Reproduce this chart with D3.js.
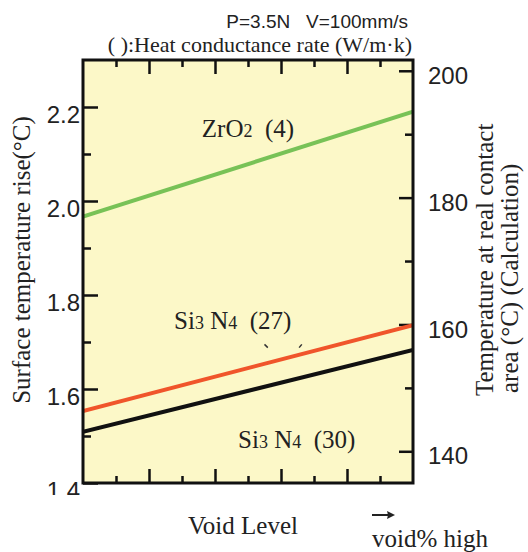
<!DOCTYPE html>
<meta charset="utf-8">
<style>

body {
  margin: 0;
  background: #fff;
}

.sans {
  font-family: "Liberation Sans", Arial, sans-serif;
}

.tick-label {
  font-family: "Liberation Sans Narrow", "Liberation Sans", Arial, sans-serif;
  font-size: 24px;
  fill: #222;
}

.serif {
  font-family: "Liberation Serif", "Times New Roman", serif;
  fill: #222;
  white-space: pre;
}

</style>
<svg width="528" height="552"></svg>
<script src="https://d3js.org/d3.v7.min.js"></script>
<script>
// Data (left axis units = surface temperature rise, deg C)
var voidLevel = [0, 10];
var zro2 = [1.967, 2.190];
var si3n4_27 = [1.553, 1.736];
var si3n4_30 = [1.509, 1.683];

var leftTicks = [1.4, 1.6, 1.8, 2.0, 2.2],
    leftMinor = [1.5, 1.7, 1.9, 2.1],
    rightTicks = [140, 160, 180, 200],
    rightMinor = [150, 170, 190],
    xLong = [2, 4, 6, 8],
    xShort = [1, 3, 5, 7, 9];

var series = [
  {name: "ZrO2", values: zro2, color: "#78c257"},
  {name: "Si3N4 (27)", values: si3n4_27, color: "#f0552b"},
  {name: "Si3N4 (30)", values: si3n4_30, color: "#111"}
];

var svg = d3.select("svg"),
    plot = {left: 83, right: 413, top: 60, bottom: 483};

var x = d3.scaleLinear().domain([0, 10]).range([plot.left, plot.right]);
var yL = d3.scaleLinear().domain([1.4, 2.3]).range([plot.bottom, plot.top]);
var yR = d3.scaleLinear().domain([135, 201.7]).range([plot.bottom, plot.top]);

// yellow plot background
svg.append("rect")
    .attr("x", plot.left).attr("y", plot.top)
    .attr("width", plot.right - plot.left).attr("height", plot.bottom - plot.top)
    .attr("fill", "#fcf8c8");

svg.append("clipPath").attr("id", "plot-clip")
  .append("rect")
    .attr("x", plot.left).attr("y", plot.top)
    .attr("width", plot.right - plot.left).attr("height", plot.bottom - plot.top);

// the 1.4 label is half hidden in the original
svg.append("clipPath").attr("id", "left-clip")
  .append("rect").attr("x", -100).attr("y", 0).attr("width", 200).attr("height", 495);

function styleAxis(sel) {
  sel.select(".domain").remove();
  sel.selectAll(".tick line").attr("stroke", "#111").attr("stroke-width", 2.5);
}

// left axis: major + minor ticks pointing inward
var left = svg.append("g")
    .attr("transform", "translate(" + plot.left + ",0)")
    .attr("clip-path", "url(#left-clip)")
    .call(d3.axisLeft(yL).tickValues(leftTicks).tickSizeInner(-15).tickSizeOuter(0)
      .tickPadding(3).tickFormat(d3.format(".1f")))
    .call(styleAxis);
left.selectAll("text").attr("class", "tick-label").attr("y", 8).attr("font-size", null).attr("font-family", null);

svg.append("g")
    .attr("transform", "translate(" + plot.left + ",0)")
    .call(d3.axisLeft(yL).tickValues(leftMinor).tickSizeInner(-8).tickSizeOuter(0).tickFormat(""))
    .call(styleAxis);

// right axis (real contact temperature)
var right = svg.append("g")
    .attr("transform", "translate(" + plot.right + ",0)")
    .call(d3.axisRight(yR).tickValues(rightTicks).tickSizeInner(-14).tickSizeOuter(0).tickPadding(15))
    .call(styleAxis);
right.selectAll("text").attr("class", "tick-label").attr("y", 5).attr("font-size", null).attr("font-family", null);

svg.append("g")
    .attr("transform", "translate(" + plot.right + ",0)")
    .call(d3.axisRight(yR).tickValues(rightMinor).tickSizeInner(-8).tickSizeOuter(0).tickFormat(""))
    .call(styleAxis);

// top and bottom ticks, no labels, pointing into the plot
[[d3.axisTop, plot.top, xLong, -14], [d3.axisTop, plot.top, xShort, -7],
 [d3.axisBottom, plot.bottom, xLong, -14], [d3.axisBottom, plot.bottom, xShort, -7]].forEach(function(a) {
  svg.append("g")
      .attr("transform", "translate(0," + a[1] + ")")
      .call(a[0](x).tickValues(a[2]).tickSizeInner(a[3]).tickSizeOuter(0).tickFormat(""))
      .call(styleAxis);
});

// the lines
var line = d3.line()
    .x(function(d, i) { return x(voidLevel[i]); })
    .y(function(d) { return yL(d); });

svg.append("g").attr("clip-path", "url(#plot-clip)")
  .selectAll("path")
  .data(series)
  .enter().append("path")
    .attr("d", function(d) { return line(d.values); })
    .attr("fill", "none")
    .attr("stroke", function(d) { return d.color; })
    .attr("stroke-width", 4);

// frame
svg.append("rect")
    .attr("x", plot.left).attr("y", plot.top)
    .attr("width", plot.right - plot.left).attr("height", plot.bottom - plot.top)
    .attr("fill", "none")
    .attr("stroke", "#111")
    .attr("stroke-width", 3);

// in-plot labels, placed in data units
function material(base, sub1, mid, sub2, rest, vx, vy) {
  var t = svg.append("text").attr("class", "serif").attr("font-size", 25)
      .attr("x", x(vx)).attr("y", yL(vy));
  t.append("tspan").text(base);
  t.append("tspan").attr("font-size", 18).text(sub1);
  if (mid) {
    t.append("tspan").text(mid);
    t.append("tspan").attr("font-size", 18).text(sub2);
  }
  t.append("tspan").text(rest);
}
material("ZrO", "2", null, null, "  (4)", 3.6, 2.137);
material("Si", "3", " N", "4", "  (27)", 2.76, 1.728);
material("Si", "3", " N", "4", "  (30)", 4.7, 1.475);

// little leader marks under the (27) label
var marks = [[5.5, 1.695, 5.6, 1.688], [6.63, 1.695, 6.55, 1.688]];
svg.selectAll(".mark")
  .data(marks)
  .enter().append("line")
    .attr("class", "mark")
    .attr("x1", function(d) { return x(d[0]); }).attr("y1", function(d) { return yL(d[1]); })
    .attr("x2", function(d) { return x(d[2]); }).attr("y2", function(d) { return yL(d[3]); })
    .attr("stroke", "#333").attr("stroke-width", 1.5);

// header
svg.append("text").attr("class", "sans").attr("font-size", 19).attr("fill", "#222")
    .attr("text-anchor", "end").attr("x", 408).attr("y", 28)
    .style("white-space", "pre")
    .text("P=3.5N   V=100mm/s");
svg.append("text").attr("class", "serif").attr("font-size", 22)
    .attr("text-anchor", "end").attr("x", 412).attr("y", 52)
    .text("( ):Heat conductance rate (W/m\u00b7k)");

// axis titles
svg.append("text").attr("class", "serif").attr("font-size", 25)
    .attr("text-anchor", "middle")
    .attr("transform", "translate(30,260) rotate(-90)")
    .text("Surface temperature rise(\u00b0C)");

svg.append("text").attr("class", "serif").attr("font-size", 25)
    .attr("transform", "translate(493,396) rotate(-90)")
    .text("Temperature at real contact");
svg.append("text").attr("class", "serif").attr("font-size", 25)
    .attr("transform", "translate(518,393) rotate(-90)")
    .text("area (\u00b0C) (Calculation)");

svg.append("text").attr("class", "serif").attr("font-size", 25)
    .attr("x", 188).attr("y", 534)
    .text("Void Level");

// "void% high" arrow
var arrow = svg.append("g").attr("transform", "translate(372,515)");
arrow.append("line").attr("x1", 0).attr("x2", 20).attr("y1", 0).attr("y2", 0)
    .attr("stroke", "#222").attr("stroke-width", 2);
arrow.append("path").attr("d", "M23,0L15,-4L16,0L15,4Z").attr("fill", "#222");

svg.append("text").attr("class", "serif").attr("font-size", 25)
    .attr("x", 372).attr("y", 547)
    .text("void% high");

</script>
